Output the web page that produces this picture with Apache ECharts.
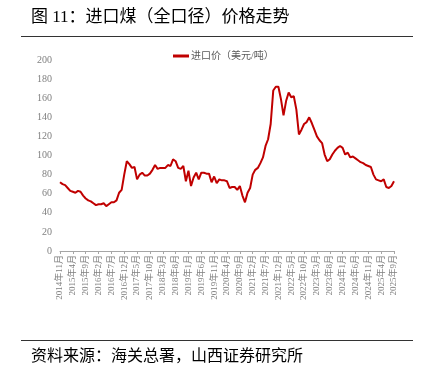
<!DOCTYPE html>
<html>
<head>
<meta charset="utf-8">
<script src="https://cdn.jsdelivr.net/npm/echarts@6/dist/echarts.min.js"></script>
<style>
  html, body { margin: 0; padding: 0; background: #fff; }
  #chart { width: 430px; height: 369px; }
</style>
</head>
<body>
<div id="chart"></div>
<script>
// 月度：2014年11月 - 2025年9月
const startYear = 2014;
const startMonth = 11;
const importPrice = [
  72, 70, 69, 66, 63, 62, 61, 63, 62, 58,
  55, 53, 52, 50, 48, 49, 49, 50, 47, 49,
  51, 51, 53, 61, 64, 80, 94, 91, 87, 88,
  75, 80, 82, 79, 79, 81, 85, 90, 86, 87,
  87, 87, 90, 89, 96, 94, 87, 86, 89, 73,
  84, 68, 77, 82, 75, 82, 82, 81, 81, 72,
  78, 71, 75, 74, 74, 73, 66, 67, 67, 64,
  68, 58, 51, 61, 66, 80, 85, 87, 92, 98,
  110, 117, 133, 168, 172, 172, 159, 142, 157, 166,
  161, 162, 148, 122, 127, 133, 135, 140, 134, 127,
  120, 116, 113, 101, 94, 96, 101, 105, 108, 110,
  108, 101, 103, 98, 99, 97, 95, 93, 92, 90,
  89, 88, 80, 75, 74, 73, 75, 67, 66, 68,
  73
];
const months = importPrice.map((_, i) => {
  const m = startMonth - 1 + i;
  return (startYear + Math.floor(m / 12)) + '年' + (m % 12 + 1) + '月';
});

const serif = "'Liberation Serif', 'Noto Sans CJK SC', serif";
const chart = echarts.init(document.getElementById('chart'));

chart.setOption({
  animation: false,
  graphic: [
    {
      type: 'text', left: 31, top: 9,
      style: { text: '图 11：进口煤（全口径）价格走势', font: "17px 'Liberation Serif', 'Noto Sans CJK SC'", fill: '#000' }
    },
    {
      type: 'line', shape: { x1: 21, y1: 36.5, x2: 413, y2: 36.5 },
      style: { stroke: '#333', lineWidth: 1 }
    },
    {
      type: 'line', shape: { x1: 21, y1: 340.5, x2: 413, y2: 340.5 },
      style: { stroke: '#333', lineWidth: 1 }
    },
    {
      type: 'text', left: 31, top: 347,
      style: { text: '资料来源：海关总署，山西证券研究所', font: "16px 'Noto Sans CJK SC'", fill: '#000' }
    }
  ],
  legend: {
    top: 46,
    left: 168,
    itemWidth: 16,
    itemHeight: 3,
    itemGap: 4,
    icon: 'rect',
    textStyle: { fontSize: 10, color: '#595959', fontFamily: serif, padding: [0, 0, 0, -3] },
    data: ['进口价（美元/吨）']
  },
  grid: { left: 60, right: 36, top: 60, bottom: 118 },
  xAxis: {
    type: 'category',
    boundaryGap: false,
    data: months,
    axisLine: { lineStyle: { color: '#a6a6a6', width: 1 } },
    axisTick: { interval: 4, length: 3, lineStyle: { color: '#a6a6a6' } },
    axisLabel: {
      interval: 4, rotate: 90, fontSize: 9, color: '#7f7f7f',
      fontFamily: serif, margin: 4
    },
    splitLine: { show: false }
  },
  yAxis: {
    type: 'value',
    min: 0, max: 200, interval: 20,
    axisLine: { show: false },
    axisTick: { show: false },
    splitLine: { show: false },
    axisLabel: { fontSize: 10, color: '#7f7f7f', fontFamily: serif, margin: 8 }
  },
  series: [{
    name: '进口价（美元/吨）',
    type: 'line',
    data: importPrice,
    showSymbol: false,
    lineStyle: { color: '#c00000', width: 2 },
    itemStyle: { color: '#c00000' }
  }]
});
</script>
</body>
</html>
